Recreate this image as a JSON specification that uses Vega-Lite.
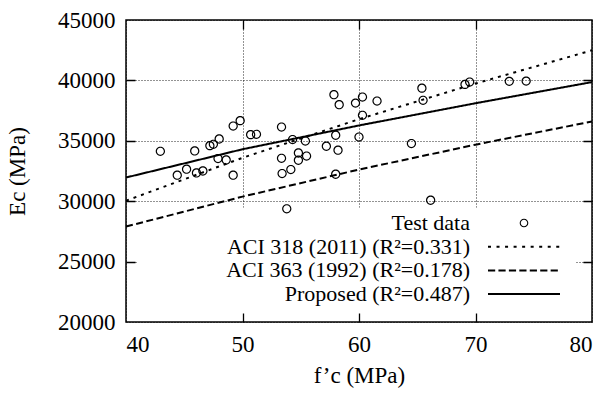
{
  "$schema": "https://vega.github.io/schema/vega-lite/v6.json",
  "width": 466,
  "height": 302,
  "autosize": "none",
  "padding": {"left": 126, "top": 20, "right": 13, "bottom": 74},
  "background": "white",
  "config": {
    "font": "Liberation Serif",
    "view": {"stroke": "black", "strokeWidth": 1.5},
    "axis": {
      "domain": false,
      "ticks": false,
      "labelColor": "black",
      "labelFont": "Liberation Serif",
      "labelFontSize": 23,
      "titleFont": "Liberation Serif",
      "titleFontSize": 23,
      "titleFontWeight": "normal",
      "titleColor": "black",
      "labelPadding": 11
    }
  },
  "datasets": {
    "pts": [
      {"fc": 42.95, "Ec": 34130}, {"fc": 44.4, "Ec": 32150}, {"fc": 45.2, "Ec": 32650},
      {"fc": 45.9, "Ec": 34160}, {"fc": 46.05, "Ec": 32340}, {"fc": 46.6, "Ec": 32500},
      {"fc": 47.2, "Ec": 34600}, {"fc": 47.5, "Ec": 34710}, {"fc": 48.0, "Ec": 35150},
      {"fc": 47.9, "Ec": 33530}, {"fc": 48.6, "Ec": 33410}, {"fc": 49.2, "Ec": 36220},
      {"fc": 49.8, "Ec": 36670}, {"fc": 49.2, "Ec": 32150}, {"fc": 50.7, "Ec": 35510},
      {"fc": 51.2, "Ec": 35540}, {"fc": 53.35, "Ec": 36140}, {"fc": 53.35, "Ec": 33550},
      {"fc": 53.4, "Ec": 32290}, {"fc": 53.8, "Ec": 29370}, {"fc": 54.3, "Ec": 35100},
      {"fc": 55.4, "Ec": 34980}, {"fc": 54.8, "Ec": 33990}, {"fc": 54.8, "Ec": 33390},
      {"fc": 55.5, "Ec": 33740}, {"fc": 54.15, "Ec": 32620}, {"fc": 57.85, "Ec": 38820},
      {"fc": 58.3, "Ec": 37990}, {"fc": 57.2, "Ec": 34550}, {"fc": 58.0, "Ec": 35460},
      {"fc": 58.2, "Ec": 34220}, {"fc": 58.0, "Ec": 32230}, {"fc": 59.7, "Ec": 38120},
      {"fc": 60.3, "Ec": 38620}, {"fc": 61.55, "Ec": 38290}, {"fc": 60.3, "Ec": 37110},
      {"fc": 60.0, "Ec": 35310}, {"fc": 64.5, "Ec": 34770}, {"fc": 65.4, "Ec": 39360},
      {"fc": 65.5, "Ec": 38350}, {"fc": 66.15, "Ec": 30080}, {"fc": 69.1, "Ec": 39670},
      {"fc": 69.5, "Ec": 39860}, {"fc": 72.9, "Ec": 39920}, {"fc": 74.35, "Ec": 39940}
    ],
    "lines": [
      {"series": "ACI 318 (2011) (R²=0.331)", "fc": 40, "Ec": 30040},
      {"series": "ACI 318 (2011) (R²=0.331)", "fc": 50, "Ec": 33590},
      {"series": "ACI 318 (2011) (R²=0.331)", "fc": 60, "Ec": 36790},
      {"series": "ACI 318 (2011) (R²=0.331)", "fc": 70, "Ec": 39740},
      {"series": "ACI 318 (2011) (R²=0.331)", "fc": 80, "Ec": 42490},
      {"series": "ACI 363 (1992) (R²=0.178)", "fc": 40, "Ec": 27900},
      {"series": "ACI 363 (1992) (R²=0.178)", "fc": 50, "Ec": 30380},
      {"series": "ACI 363 (1992) (R²=0.178)", "fc": 60, "Ec": 32620},
      {"series": "ACI 363 (1992) (R²=0.178)", "fc": 70, "Ec": 34680},
      {"series": "ACI 363 (1992) (R²=0.178)", "fc": 80, "Ec": 36600},
      {"series": "Proposed (R²=0.487)", "fc": 40, "Ec": 31960},
      {"series": "Proposed (R²=0.487)", "fc": 50, "Ec": 34300},
      {"series": "Proposed (R²=0.487)", "fc": 60, "Ec": 36270},
      {"series": "Proposed (R²=0.487)", "fc": 70, "Ec": 38110},
      {"series": "Proposed (R²=0.487)", "fc": 80, "Ec": 39860}
    ]
  },
  "resolve": {"axis": {"x": "independent", "y": "independent"}},
  "layer": [
    {
      "data": {"values": [{}]},
      "mark": {"type": "rect", "fill": "white", "stroke": null},
      "encoding": {
        "x": {"datum": 41, "type": "quantitative", "scale": {"domain": [40, 80], "nice": false, "zero": false},
              "axis": {"orient": "bottom", "values": [50, 60, 70], "grid": true, "gridDash": [9, 284, 9, 400], "gridColor": "black", "gridOpacity": 1, "gridWidth": 1.3, "labels": false, "title": null}},
        "x2": {"datum": 78.6},
        "y": {"datum": 20750, "type": "quantitative", "scale": {"domain": [20000, 45000], "nice": false, "zero": false},
              "axis": {"orient": "left", "values": [25000, 30000, 35000, 40000], "grid": true, "gridDash": [9, 448, 9, 600], "gridColor": "black", "gridOpacity": 1, "gridWidth": 1.3, "labels": false, "title": null}},
        "y2": {"datum": 29450}
      }
    },
    {
      "data": {"name": "lines"},
      "mark": {"type": "line", "color": "black", "strokeWidth": 2},
      "encoding": {
        "x": {
          "field": "fc", "type": "quantitative",
          "scale": {"domain": [40, 80], "nice": false, "zero": false},
          "axis": {"orient": "bottom", "values": [40, 50, 60, 70, 80], "grid": true, "gridDash": [1, 2], "gridColor": "black", "gridOpacity": 0.85, "title": "f’c (MPa)", "titlePadding": 8}
        },
        "y": {
          "field": "Ec", "type": "quantitative",
          "scale": {"domain": [20000, 45000], "nice": false, "zero": false},
          "axis": {"orient": "left", "values": [20000, 25000, 30000, 35000, 40000, 45000], "format": "d", "grid": true, "gridDash": [1, 2], "gridColor": "black", "gridOpacity": 0.85, "title": "Ec (MPa)", "titlePadding": 28}
        },
        "strokeDash": {
          "field": "series", "type": "nominal",
          "scale": {"domain": ["ACI 318 (2011) (R²=0.331)", "ACI 363 (1992) (R²=0.178)", "Proposed (R²=0.487)"], "range": [[3, 5], [7, 3.5], [1, 0]]},
          "legend": null
        }
      }
    },
    {
      "data": {"name": "pts"},
      "mark": {"type": "point", "filled": true, "color": "black", "strokeWidth": 0, "size": 666, "opacity": 1},
      "encoding": {
        "x": {"field": "fc", "type": "quantitative", "axis": null},
        "y": {"field": "Ec", "type": "quantitative", "axis": null},
        "shape": {
          "datum": "Test data", "type": "nominal",
          "scale": {
            "domain": ["Test data", "ACI 318 (2011) (R²=0.331)", "ACI 363 (1992) (R²=0.178)", "Proposed (R²=0.487)"],
            "range": [
              "M0.36,0A0.36,0.36,0,1,1,-0.36,0A0.36,0.36,0,1,1,0.36,0ZM0.27,0A0.27,0.27,0,1,0,-0.27,0A0.27,0.27,0,1,0,0.27,0Z",
              "M-3,-0.083h0.25v0.166h-0.25ZM-2.289,-0.083h0.25v0.166h-0.25ZM-1.578,-0.083h0.25v0.166h-0.25ZM-0.867,-0.083h0.25v0.166h-0.25ZM-0.156,-0.083h0.25v0.166h-0.25ZM0.555,-0.083h0.25v0.166h-0.25ZM1.266,-0.083h0.25v0.166h-0.25ZM1.977,-0.083h0.25v0.166h-0.25ZM2.688,-0.083h0.25v0.166h-0.25Z",
              "M-3,-0.083h0.6v0.166h-0.6ZM-2.13,-0.083h0.6v0.166h-0.6ZM-1.26,-0.083h0.6v0.166h-0.6ZM-0.39,-0.083h0.6v0.166h-0.6ZM0.48,-0.083h0.6v0.166h-0.6ZM1.35,-0.083h0.6v0.166h-0.6ZM2.22,-0.083h0.6v0.166h-0.6Z",
              "M-3,-0.083H3V0.083H-3Z"
            ]
          },
          "legend": {
            "title": null,
            "orient": "none",
            "legendX": 386,
            "legendY": 191,
            "padding": 0,
            "direction": "vertical",
            "labelAlign": "right",
            "labelOffset": -66,
            "labelLimit": 0,
            "symbolSize": 576,
            "rowPadding": 0.7,
            "labelFont": "Liberation Serif",
            "labelFontSize": 22,
            "labelColor": "black",
            "symbolStrokeColor": "transparent",
            "symbolFillColor": "black",
            "symbolStrokeWidth": 0
          }
        }
      }
    }
  ]
}
